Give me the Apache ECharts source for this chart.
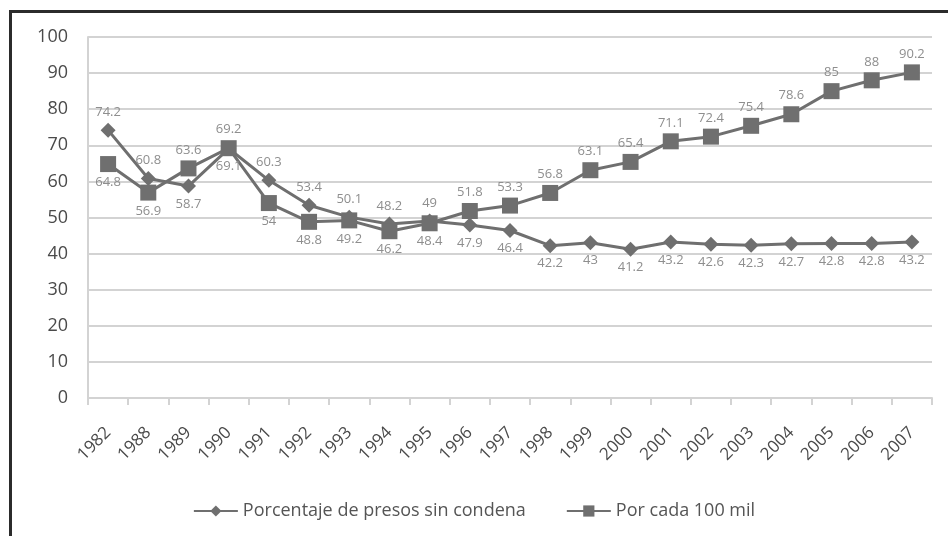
<!DOCTYPE html>
<html lang="es">
<head>
    <meta charset="UTF-8">
    <title>Presos sin condena</title>
    <script src="https://cdn.jsdelivr.net/npm/echarts@6/dist/echarts.min.js"></script>
    <style>
        html, body { margin: 0; padding: 0; background: #fff; }
    </style>
</head>
<body>
    <div id="chart" style="width: 948px;height: 536px;"></div>
<script>
    // años
    var years = ['1982', '1988', '1989', '1990', '1991', '1992', '1993', '1994', '1995', '1996', '1997',
                 '1998', '1999', '2000', '2001', '2002', '2003', '2004', '2005', '2006', '2007'];
    // Porcentaje de presos sin condena
    var sinCondena = [74.2, 60.8, 58.7, 69.1, 60.3, 53.4, 50.1, 48.2, 49, 47.9, 46.4,
                      42.2, 43, 41.2, 43.2, 42.6, 42.3, 42.7, 42.8, 42.8, 43.2];
    // Por cada 100 mil
    var porCien = [64.8, 56.9, 63.6, 69.2, 54, 48.8, 49.2, 46.2, 48.4, 51.8, 53.3,
                   56.8, 63.1, 65.4, 71.1, 72.4, 75.4, 78.6, 85, 88, 90.2];
    var seriesNames = ['Porcentaje de presos sin condena', 'Por cada 100 mil'];

    var lineColor = '#6f6f6f';
    var labelColor = '#8e8e8e';

    // etiqueta arriba si es el valor mayor del año, abajo si es el menor
    function buildData(values, others) {
        var out = [];
        for (var i = 0; i < values.length; i++) {
            var up = values[i] >= others[i];
            out.push({
                value: values[i],
                label: { position: up ? 'top' : 'bottom' }
            });
        }
        return out;
    }

    var chart = echarts.init(document.getElementById('chart'));
    var option = {
        backgroundColor: '#ffffff',
        animation: false,
        textStyle: { fontFamily: 'Open Sans' },
        graphic: [{
            type: 'polyline',
            shape: { points: [[10.5, 536], [10.5, 11.5], [948, 11.5]] },
            style: { stroke: '#2b2b2b', lineWidth: 3, fill: null }
        }],
        grid: { left: 88, right: 16, top: 37, bottom: 138 },
        legend: {
            top: 497,
            left: 'center',
            itemWidth: 44,
            itemHeight: 14,
            itemGap: 40,
            data: seriesNames,
            textStyle: { color: '#555', fontSize: 18, fontFamily: 'Open Sans' }
        },
        xAxis: {
            type: 'category',
            data: years,
            boundaryGap: true,
            axisLine: { lineStyle: { color: '#d3d3d3', width: 2 } },
            axisTick: { show: true, length: 7, lineStyle: { color: '#d3d3d3', width: 2 } },
            axisLabel: {
                rotate: 45,
                interval: 0,
                margin: 32,
                color: '#4a4a4a',
                fontSize: 17,
                fontFamily: 'Open Sans'
            }
        },
        yAxis: {
            type: 'value',
            min: 0,
            max: 100,
            interval: 10,
            axisLine: { show: true, lineStyle: { color: '#d3d3d3', width: 2 } },
            axisTick: { show: false },
            splitLine: { lineStyle: { color: '#d3d3d3', width: 2 } },
            axisLabel: { color: '#4a4a4a', fontSize: 18, margin: 20, fontFamily: 'Open Sans' }
        },
        series: [{
            name: seriesNames[0],
            type: 'line',
            symbol: 'diamond',
            symbolSize: 15,
            color: lineColor,
            lineStyle: { width: 3, color: lineColor },
            itemStyle: { color: lineColor },
            label: { show: true, color: labelColor, fontSize: 13, distance: 4 },
            data: buildData(sinCondena, porCien)
        }, {
            name: seriesNames[1],
            type: 'line',
            symbol: 'rect',
            symbolSize: 16,
            color: lineColor,
            lineStyle: { width: 3, color: lineColor },
            itemStyle: { color: lineColor },
            label: { show: true, color: labelColor, fontSize: 13, distance: 4 },
            data: buildData(porCien, sinCondena)
        }]
    };
    chart.setOption(option);
</script>
</body>
</html>
